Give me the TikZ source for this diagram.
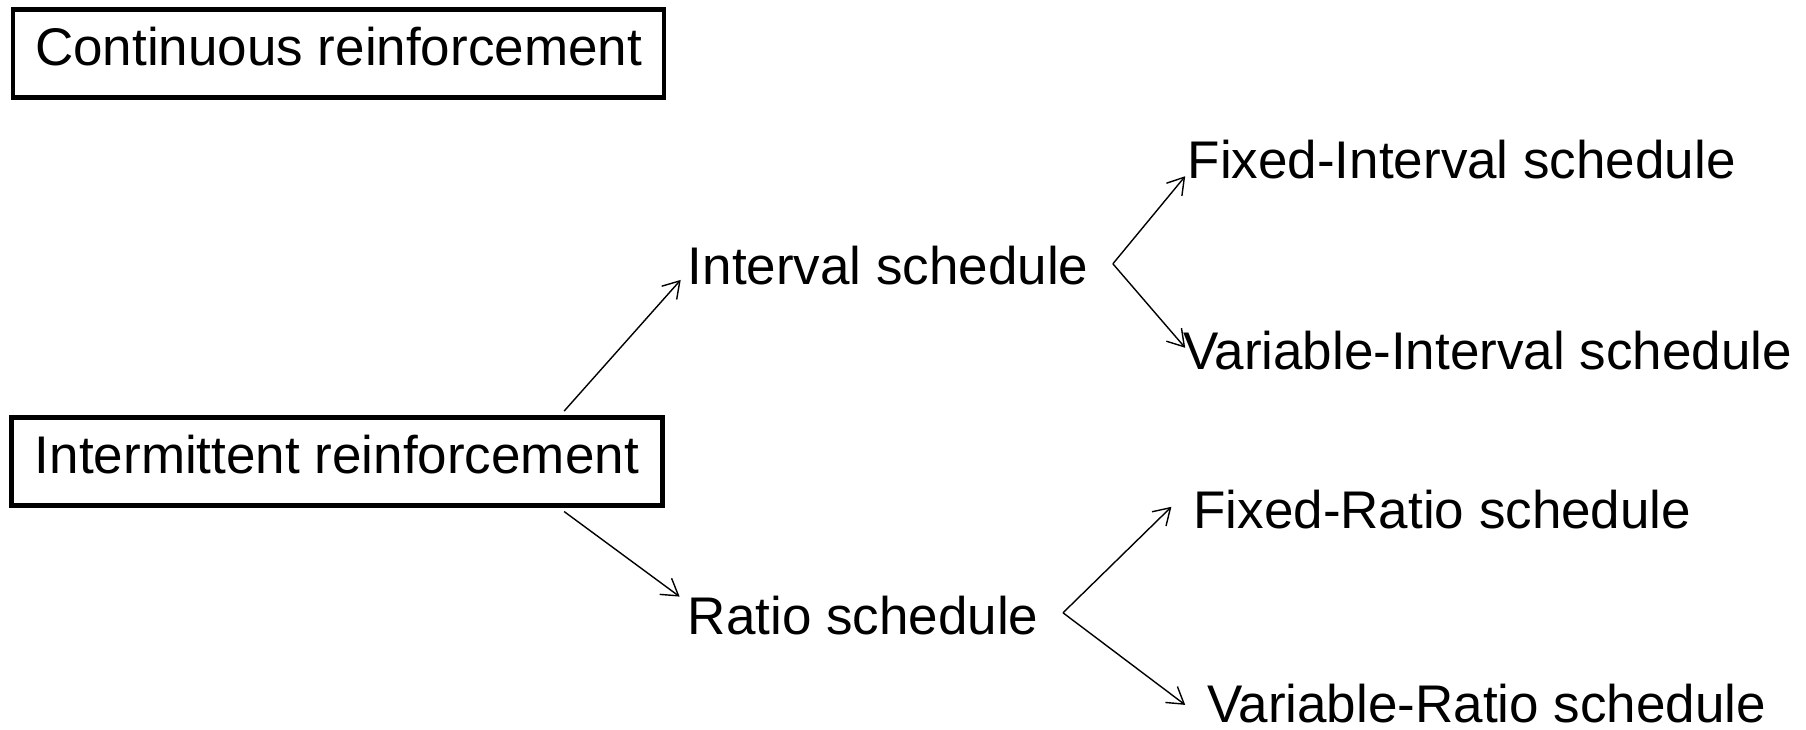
\documentclass[tikz,border=0pt]{standalone}
\usepackage{fontspec}
\setmainfont{Liberation Sans}
\usetikzlibrary{arrows.meta}
\begin{document}
\begin{tikzpicture}[x=1pt,y=-1pt,
  every node/.style={font=\fontsize{53}{60}\selectfont},
  lbl/.style={inner sep=0pt, anchor=base west},
  boxnode/.style={draw, line width=4.5pt, inner sep=0pt, minimum width=651pt, minimum height=88pt, text height=38.7pt, text depth=14.3pt},
  arr/.style={line width=1.4pt, -{Straight Barb[length=16pt,width=20pt,line width=1.4pt]}},
  conn/.style={line width=1.4pt}]
\useasboundingbox (0,0) rectangle (1806,730);
\node[boxnode] (cont) at (338.6,53.5) {Continuous reinforcement};
\node[boxnode] (int) at (336.9,461.3) {Intermittent reinforcement};
\node[lbl] (iv) at (687.6,284.5) {Interval schedule};
\node[lbl] (rs) at (687.6,634.6) {Ratio schedule};
\node[lbl] (fi) at (1187.5,178.5) {Fixed-Interval schedule};
\node[lbl] (vi) at (1182.9,369.7) {Variable-Interval schedule};
\node[lbl] (fr) at (1193.2,528.7) {Fixed-Ratio schedule};
\node[lbl] (vr) at (1207,722.2) {Variable-Ratio schedule};
\coordinate (ivb) at ([xshift=24.2pt,yshift=20.7pt]iv.base east);
\coordinate (rsb) at ([xshift=24.4pt,yshift=21.8pt]rs.base east);
\draw[arr] ([xshift=-100.5pt,yshift=4pt]int.north east) -- ([xshift=-6.9pt,yshift=4.6pt]iv.base west);
\draw[arr] ([xshift=-100.5pt,yshift=-4pt]int.south east) -- ([xshift=-8pt,yshift=38pt]rs.base west);
\draw[arr] (ivb) -- ([xshift=-2.3pt,yshift=2.3pt]fi.base west);
\draw[arr] (ivb) -- ([xshift=2.3pt,yshift=21.9pt]vi.base west);
\draw[arr] (rsb) -- ([xshift=-21.8pt,yshift=21.9pt]fr.base west);
\draw[arr] (rsb) -- ([xshift=-21.8pt,yshift=17.3pt]vr.base west);
\end{tikzpicture}
\end{document}
